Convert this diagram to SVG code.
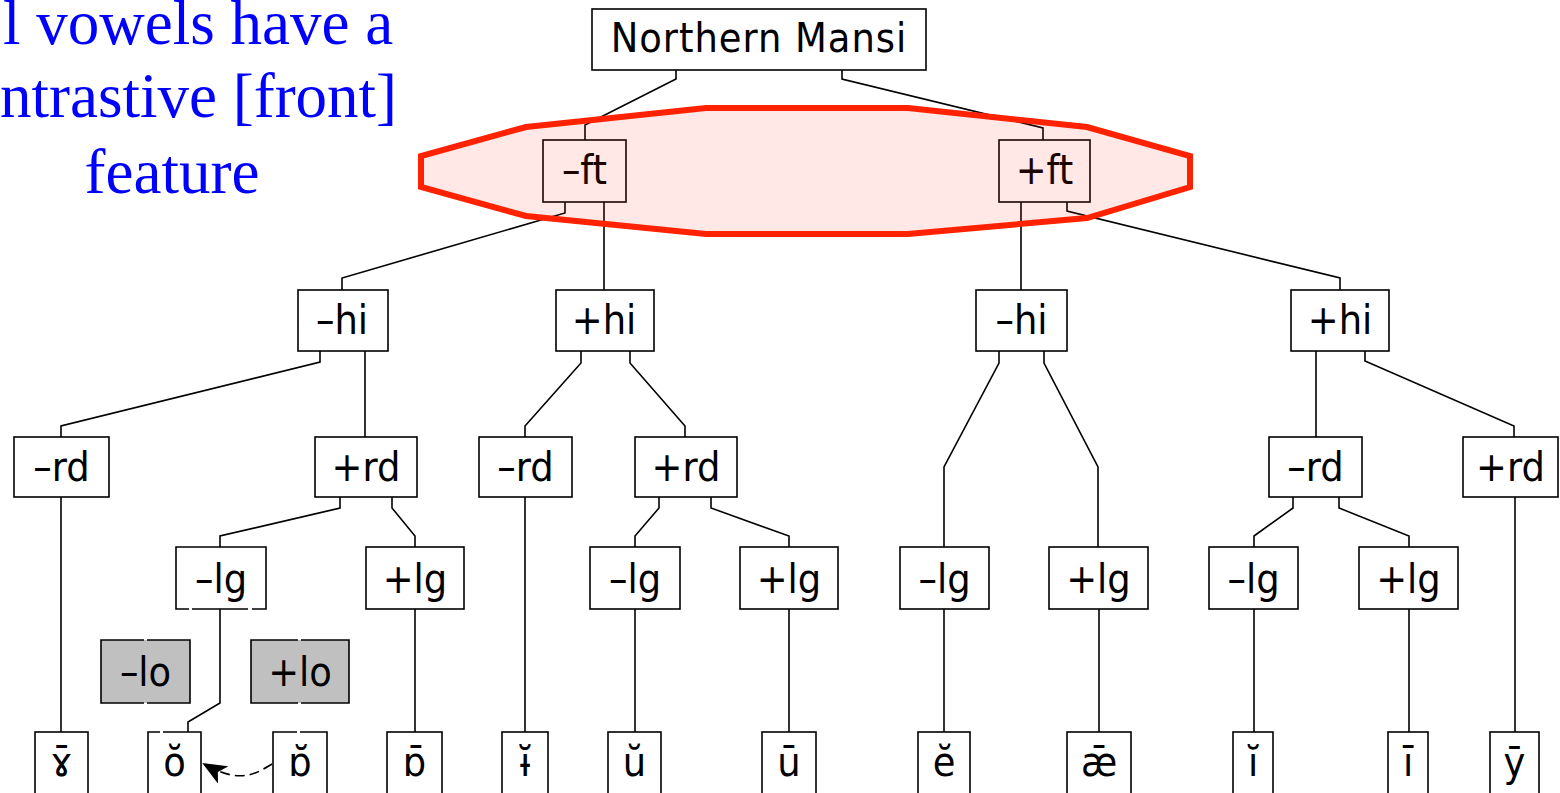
<svg xmlns="http://www.w3.org/2000/svg" width="1560" height="793" viewBox="0 0 1560 793">
<style>
.b{fill:#fff;stroke:#000;stroke-width:1.6}
.g{fill:#c0c0c0;stroke:none}
.e{fill:none;stroke:#000;stroke-width:1.6}
.t{font-family:"DejaVu Sans Condensed","DejaVu Sans",sans-serif;font-stretch:condensed;font-size:41px;fill:#000;text-anchor:middle}
.c polyline{fill:none;stroke:#000;stroke-width:1.6}
.note{font-family:"Liberation Serif",serif;font-size:63px;fill:#0000ff}
</style>
<defs>
<marker id="ah" markerWidth="24" markerHeight="20" refX="22" refY="10" orient="auto" markerUnits="userSpaceOnUse">
<path d="M0,0 L24,10 L0,20 L6,10 Z" fill="#000"/>
</marker>
</defs>
<rect width="1560" height="793" fill="#fff"/>
<g id="note">
<text class="note" x="3" y="44">l vowels have a</text>
<text class="note" x="0" y="117">ntrastive [front]</text>
<text class="note" x="172" y="193" text-anchor="middle">feature</text>
</g>
<g class="c" id="connectors">
<polyline points="676,70 676,79 585,125 585,140"/>
<polyline points="842,70 842,79 1043,128 1043,140"/>
<polyline points="565,202 565,213 342,278 342,290"/>
<polyline points="604,202 604,290"/>
<polyline points="1021,202 1021,290"/>
<polyline points="1067,202 1067,211 1340,278 1340,290"/>
<polyline points="320,351 320,362 61,426 61,437"/>
<polyline points="365,351 365,437"/>
<polyline points="581,351 581,363 525,426 525,437"/>
<polyline points="630,351 630,363 685,426 685,437"/>
<polyline points="999,351 999,363 944,467 944,547"/>
<polyline points="1044,351 1044,363 1098,467 1098,547"/>
<polyline points="1316,351 1316,437"/>
<polyline points="1365,351 1365,361 1514,426 1514,437"/>
<polyline points="61,497 61,732"/>
<polyline points="340,497 340,508 220,536 220,547"/>
<polyline points="392,497 392,508 415,536 415,547"/>
<polyline points="220,609 220,703 188,722 188,732"/>
<polyline points="415,609 415,732"/>
<polyline points="525,497 525,732"/>
<polyline points="659,497 659,508 635,536 635,547"/>
<polyline points="711,497 711,508 789,536 789,547"/>
<polyline points="635,609 635,732"/>
<polyline points="789,609 789,732"/>
<polyline points="944,609 944,732"/>
<polyline points="1099,609 1099,732"/>
<polyline points="1293,497 1293,508 1254,536 1254,547"/>
<polyline points="1339,497 1339,508 1409,536 1409,547"/>
<polyline points="1254,609 1254,732"/>
<polyline points="1409,609 1409,732"/>
<polyline points="1515,497 1515,732"/>
<path d="M272,764 C258,772 242,786 204,764" fill="none" stroke="#000" stroke-width="1.6" stroke-dasharray="10,5" marker-end="url(#ah)"/>
</g>
<g id="n-root"><rect class="b" x="592" y="9" width="334" height="61"/><text class="t" x="759" y="52" font-size="40" letter-spacing="1">Northern Mansi</text></g>
<g id="n-mft"><rect class="b" x="543" y="140" width="83" height="62"/><text class="t" x="584.5" y="184">–ft</text></g>
<g id="n-pft"><rect class="b" x="999" y="140" width="91" height="62"/><text class="t" x="1044.5" y="184">+ft</text></g>
<g id="n-mhi1"><rect class="b" x="298" y="290" width="90" height="61"/><text class="t" x="342" y="334">–hi</text></g>
<g id="n-phi1"><rect class="b" x="556" y="290" width="98" height="61"/><text class="t" x="604" y="334">+hi</text></g>
<g id="n-mhi2"><rect class="b" x="976" y="290" width="91" height="61"/><text class="t" x="1021.5" y="334">–hi</text></g>
<g id="n-phi2"><rect class="b" x="1291" y="290" width="98" height="61"/><text class="t" x="1340" y="334">+hi</text></g>
<g id="n-mrd1"><rect class="b" x="14" y="437" width="95" height="60"/><text class="t" x="61.5" y="481">–rd</text></g>
<g id="n-prd1"><rect class="b" x="315" y="437" width="102" height="60"/><text class="t" x="366" y="481">+rd</text></g>
<g id="n-mrd2"><rect class="b" x="479" y="437" width="93" height="60"/><text class="t" x="525.5" y="481">–rd</text></g>
<g id="n-prd2"><rect class="b" x="635" y="437" width="102" height="60"/><text class="t" x="686" y="481">+rd</text></g>
<g id="n-mrd3"><rect class="b" x="1269" y="437" width="93" height="60"/><text class="t" x="1315.5" y="481">–rd</text></g>
<g id="n-prd3"><rect class="b" x="1463" y="437" width="95" height="60"/><text class="t" x="1510.5" y="481">+rd</text></g>
<g id="n-mlg1"><rect x="176" y="547" width="90" height="62" fill="#fff"/><path class="e" d="M189,609 H176 V547 H266 V609 H252 M248,609 H192"/><text class="t" x="221" y="593">–lg</text></g>
<g id="n-plg1"><rect class="b" x="366" y="547" width="98" height="62"/><text class="t" x="415" y="593">+lg</text></g>
<g id="n-mlg2"><rect class="b" x="590" y="547" width="90" height="62"/><text class="t" x="635" y="593">–lg</text></g>
<g id="n-plg2"><rect class="b" x="740" y="547" width="98" height="62"/><text class="t" x="789" y="593">+lg</text></g>
<g id="n-mlg3"><rect class="b" x="900" y="547" width="89" height="62"/><text class="t" x="944.5" y="593">–lg</text></g>
<g id="n-plg3"><rect class="b" x="1049" y="547" width="99" height="62"/><text class="t" x="1098.5" y="593">+lg</text></g>
<g id="n-mlg4"><rect class="b" x="1209" y="547" width="89" height="62"/><text class="t" x="1253.5" y="593">–lg</text></g>
<g id="n-plg4"><rect class="b" x="1359" y="547" width="99" height="62"/><text class="t" x="1408.5" y="593">+lg</text></g>
<g id="n-mlo"><rect class="g" x="101" y="640" width="89" height="63"/><path class="e" d="M144,640 H101 V703 H144 M147,703 H190 V640 H147"/><text class="t" x="145.5" y="686">–lo</text></g>
<g id="n-plo"><rect class="g" x="251" y="640" width="98" height="63"/><path class="e" d="M298,640 H251 V703 H298 M301,703 H349 V640 H301"/><text class="t" x="300" y="686">+lo</text></g>
<g id="l1"><rect class="b" x="35" y="732" width="53" height="70"/><text class="t" x="61.5" y="776">ɤ̄</text></g>
<g id="l2"><rect x="148" y="732" width="53" height="70" fill="#fff"/><path class="e" d="M160,732 H148 V802 M201,802 V732 H163"/><text class="t" x="174.5" y="776">ŏ</text></g>
<g id="l3"><rect x="273" y="732" width="54" height="70" fill="#fff"/><path class="e" d="M297,732 H273 V802 M327,802 V732 H300"/><text class="t" x="300" y="776">ɒ̆</text></g>
<g id="l4"><rect class="b" x="387" y="732" width="55" height="70"/><text class="t" x="414.5" y="776">ɒ̄</text></g>
<g id="l5"><rect class="b" x="502" y="732" width="46" height="70"/><text class="t" x="525" y="776">ɨ̆</text></g>
<g id="l6"><rect class="b" x="608" y="732" width="53" height="70"/><text class="t" x="634.5" y="776">ŭ</text></g>
<g id="l7"><rect class="b" x="762" y="732" width="54" height="70"/><text class="t" x="789" y="776">ū</text></g>
<g id="l8"><rect class="b" x="918" y="732" width="52" height="70"/><text class="t" x="944" y="776">ĕ</text></g>
<g id="l9"><rect class="b" x="1067" y="732" width="64" height="70"/><text class="t" x="1099" y="776">ǣ</text></g>
<g id="l10"><rect class="b" x="1233" y="732" width="40" height="70"/><text class="t" x="1253" y="776">ĭ</text></g>
<g id="l11"><rect class="b" x="1388" y="732" width="40" height="70"/><text class="t" x="1408" y="776">ī</text></g>
<g id="l12"><rect class="b" x="1490" y="732" width="49" height="70"/><text class="t" x="1514.5" y="776">ȳ</text></g>
<g id="highlight">
<polygon points="526,127 706,108 908,108 1087,127 1190,156 1190,187 1087,218 908,234 706,234 526,216 421,187 421,156" fill="#ff2200" fill-opacity="0.1" stroke="#ff2200" stroke-width="6" stroke-linejoin="miter"/>
</g>
</svg>
